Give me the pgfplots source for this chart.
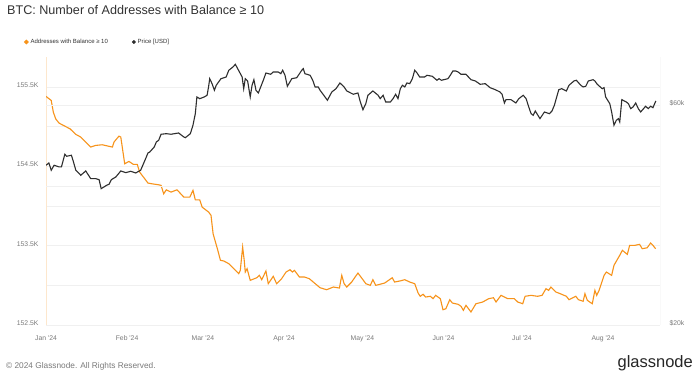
\documentclass[border=0pt]{standalone}
\usepackage{fontspec}
\setmainfont{Liberation Sans}
\usepackage{pgfplots}
\pgfplotsset{compat=1.18}
\definecolor{btcorange}{HTML}{F7931A}
\definecolor{pricegray}{HTML}{2E2E2E}
\definecolor{gridc}{HTML}{F0F0F0}
\definecolor{ticktext}{HTML}{7A7A7A}
\definecolor{titlec}{HTML}{333333}
\begin{document}
\begin{tikzpicture}[x=1pt,y=1pt]
\path[use as bounding box, fill=white] (0,0) rectangle (700,380);
\begin{axis}[
  at={(46pt,55pt)}, anchor=south west, scale only axis,
  width=614pt, height=268pt,
  xmin=0, xmax=234.8, ymin=152500, ymax=155880,
  scaled y ticks=false, scaled x ticks=false,
  axis line style={draw=none},
  tick style={draw=none}, major tick length=0pt,
  xtick={0,31,60,91,121,152,182,213},
  xticklabels={Jan \textquotesingle 24,Feb \textquotesingle 24,Mar \textquotesingle 24,Apr \textquotesingle 24,May \textquotesingle 24,Jun \textquotesingle 24,Jul \textquotesingle 24,Aug \textquotesingle 24},
  ytick={152500,153000,153500,154000,154500,155000,155500},
  yticklabels={152.5K,,153.5K,,154.5K,,155.5K},
  ymajorgrids, grid style={gridc, line width=0.6pt},
  ticklabel style={font=\fontsize{6.8}{8}\selectfont, text=ticktext},
  yticklabel style={xshift=-4pt, yshift=2pt},
  xticklabel style={yshift=-7pt},
  legend style={at={(-0.036,1.056)}, anchor=west, draw=none, fill=none,
    font=\fontsize{6}{7}\selectfont, text=titlec, legend columns=2,
    /tikz/every even column/.append style={column sep=22pt},
    legend cell align=left, inner sep=0pt},
  legend image code/.code={\fill (0.6em,0) circle (1.7pt);},
]
\draw[btcorange!22, line width=1.2pt] (rel axis cs:0,0) -- (rel axis cs:0,1);
\draw[gridc, line width=0.8pt] (rel axis cs:0,0) -- (rel axis cs:1,0);
\addplot[btcorange, line width=1.1pt] coordinates {
(0,155383)(2.0,155332)(2.8,155185)(3.7,155100)(5.0,155046)(7.2,155008)(9.2,154974)(11.4,154904)(13.3,154870)(15.2,154807)(17.1,154744)(19.0,154765)(21.5,154773)(25.4,154744)(26.0,154807)(27.9,154882)(28.6,154870)(30.1,154533)(31.7,154563)(33.4,154526)(34.9,154526)(35.8,154429)(39.0,154290)(40.5,154281)(43.1,154268)(44.0,154261)(45.0,154155)(46.0,154205)(47.8,154176)(50.1,154205)(52.7,154113)(55.0,154113)(56.2,154198)(57.1,154079)(58.8,154079)(59.7,153987)(62.2,153924)(63.1,153883)(63.9,153651)(65.7,153442)(66.7,153316)(68.0,153307)(69.9,153273)(71.8,153210)(73.7,153147)(74.3,153189)(75.2,153483)(75.8,153316)(76.2,153168)(76.9,153210)(78.1,153063)(80.6,153096)(81.6,153126)(82.5,153071)(84.1,153181)(85.0,153021)(86.9,153114)(88.2,153021)(90.1,153084)(91.8,153168)(93.3,153197)(94.2,153168)(95.0,153189)(96.9,153105)(98.8,153105)(100.7,153084)(102.2,153042)(104.8,152970)(107.3,152945)(109.9,152979)(112.2,152966)(113.1,153126)(114.0,153021)(115.0,152979)(116.9,153042)(118.2,153105)(119.3,153155)(121.2,153071)(122.3,153021)(124.0,153000)(125.0,153071)(126.1,153000)(129.5,153029)(132.4,153096)(133.3,153042)(135.3,153055)(137.2,153071)(139.1,153042)(141.0,153021)(142.3,152903)(143.1,152862)(144.2,152887)(145.2,152853)(147.0,152862)(148.0,152832)(149.0,152874)(150.8,152832)(151.8,152693)(152.9,152705)(154.4,152819)(155.4,152777)(157.6,152761)(158.7,152736)(159.6,152685)(160.6,152748)(162.5,152664)(164.4,152768)(167.0,152790)(169.3,152832)(171.1,152844)(172.1,152790)(174.0,152874)(176.6,152832)(179.1,152832)(180.4,152790)(182.3,152768)(183.2,152862)(185.5,152874)(188.0,152862)(189.7,152874)(191.2,152958)(192.2,152937)(193.1,152979)(195.0,152916)(197.2,152887)(199.0,152862)(200.0,152819)(202.6,152862)(203.6,152819)(205.4,152799)(206.1,152895)(207.0,152811)(208.9,152768)(209.9,152937)(210.6,152874)(211.5,152937)(213.4,153126)(214.3,153168)(216.3,153126)(217.2,153253)(219.4,153379)(220.4,153442)(222.3,153391)(223.2,153505)(225.2,153505)(227.0,153517)(228.0,153462)(229.9,153474)(231.2,153534)(232.1,153505)(233.1,153462)
};
\addlegendentry{Addresses with Balance ≥ 10}
\addlegendimage{pricegray}
\addlegendentry{Price [USD]}
\end{axis}
\begin{axis}[
  at={(46pt,55pt)}, anchor=south west, scale only axis,
  width=614pt, height=268pt,
  xmin=0, xmax=234.8, ymode=log, ymin=20000, ymax=76260,
  axis line style={draw=none},
  tick style={draw=none}, major tick length=0pt,
  xtick=\empty,
  axis y line*=right,
  ytick={20000,40000,60000},
  yticklabels={\$20k,,\$60k},
  ymajorgrids, grid style={gridc, line width=0.6pt},
  ticklabel style={font=\fontsize{6.8}{8}\selectfont, text=ticktext},
  yticklabel style={xshift=6pt, yshift=2pt},
]
\draw[black!18, line width=1.0pt] (rel axis cs:1,0) -- (rel axis cs:1,1);
\addplot[pricegray, line width=1.1pt] coordinates {
(0,44400)(1.1,44920)(2.0,43310)(3.1,44400)(5.0,44030)(5.9,44030)(7.2,46910)(7.9,46440)(9.7,46680)(10.4,45370)(11.4,43310)(13.3,42240)(15.2,43160)(17.1,41530)(19.0,41530)(20.3,41320)(21.1,39510)(23.2,40180)(24.1,40380)(25.0,41320)(26.7,41880)(28.6,43160)(30.5,42790)(32.4,43090)(34.3,42730)(36.2,43310)(38.1,45890)(39.0,47220)(39.7,47450)(41.4,48650)(42.2,49880)(43.1,50310)(44.0,51840)(46.0,51990)(47.8,51840)(50.7,52170)(52.7,51140)(53.3,50960)(55.2,51990)(56.2,54220)(57.1,57450)(57.7,62450)(58.8,61920)(60.5,62450)(61.6,62980)(62.2,65880)(62.6,68420)(63.5,66740)(64.4,64580)(65.1,66210)(66.9,68420)(68.9,69010)(69.9,71360)(71.5,72540)(72.4,73520)(73.3,71930)(75.0,69010)(75.6,65090)(76.2,68420)(77.1,67640)(78.1,62450)(78.8,66210)(79.5,68080)(80.3,64580)(81.2,63710)(83.1,67880)(84.1,70400)(85.9,69940)(86.9,70750)(88.8,70750)(89.8,70160)(90.5,71360)(91.4,69590)(92.3,65880)(94.0,68420)(95.9,68760)(97.8,71360)(98.4,71930)(99.0,70160)(101.0,69590)(102.0,67880)(102.9,65650)(104.1,65650)(104.8,64580)(106.7,62450)(107.6,61430)(109.3,64030)(110.9,65090)(112.4,66970)(114.0,65650)(115.0,64350)(117.5,63300)(119.3,63710)(120.2,60910)(121.2,58610)(122.3,60400)(123.1,62980)(125.0,64350)(127.0,62980)(127.8,61920)(128.9,62980)(129.9,60910)(131.7,60910)(132.7,61920)(133.7,63300)(134.6,61920)(135.5,65090)(136.3,66210)(137.2,65650)(138.0,66970)(139.1,66740)(140.1,68420)(141.0,71360)(141.9,70400)(142.9,69010)(144.8,69010)(145.7,69590)(147.7,69250)(149.5,67880)(150.3,68420)(151.2,67880)(153.7,68420)(154.6,69590)(155.6,71110)(156.7,71110)(157.6,70750)(158.7,69940)(160.6,69940)(162.5,68080)(164.2,67640)(166.0,66530)(168.0,66740)(169.8,65420)(171.8,64770)(173.6,64030)(174.4,63300)(175.3,60610)(175.9,61620)(177.8,61620)(179.7,60610)(180.8,61920)(182.5,62980)(183.6,61920)(184.6,59410)(185.5,57450)(186.3,56990)(187.1,58230)(188.9,56040)(190.6,57940)(192.5,57450)(193.5,58230)(194.4,59920)(195.3,62450)(196.1,64770)(197.2,65090)(199.0,64350)(200.0,66210)(201.9,67640)(202.8,67880)(204.5,66210)(205.4,65650)(206.4,65880)(207.4,67640)(209.2,68080)(209.9,67640)(210.8,66530)(212.7,65090)(213.4,65420)(214.0,62450)(215.6,60400)(216.3,57940)(217.2,54220)(218.1,55590)(218.9,56040)(219.4,55120)(220.2,61620)(221.9,60910)(222.7,60400)(223.6,58910)(224.5,59410)(225.5,60610)(226.5,58910)(227.4,57940)(229.3,59620)(230.3,58910)(231.2,59620)(232.1,59200)(233.2,61220)
};
\end{axis}
\node[anchor=west, text=titlec, font=\fontsize{12.6}{14}\selectfont, inner sep=0pt] at (7,370) {BTC: Number of Addresses with Balance ≥ 10};
\node[anchor=west, text=ticktext, font=\fontsize{8.3}{10}\selectfont, inner sep=0pt] at (6,14) {© 2024 Glassnode. All Rights Reserved.};
\node[anchor=east, text=black!85, font=\fontsize{16.5}{18}\selectfont, inner sep=0pt] at (693,17) {glassnode};
\end{tikzpicture}
\end{document}
